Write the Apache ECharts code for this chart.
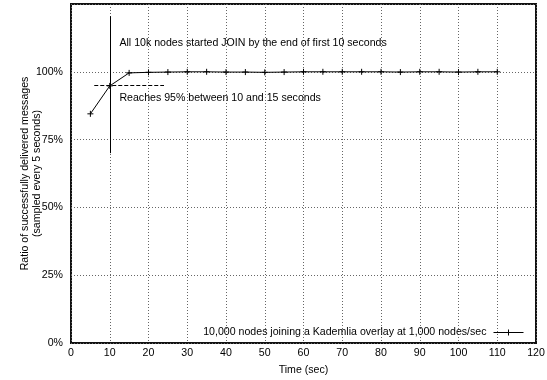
<!DOCTYPE html>
<html>
<head>
<meta charset="utf-8">
<script src="https://cdn.jsdelivr.net/npm/echarts@6/dist/echarts.min.js"></script>
<style>html,body{margin:0;padding:0;background:#fff}#c{width:547px;height:380px}</style>
</head>
<body>
<div id="c"></div>
<script>
const times = [5,10,15,20,25,30,35,40,45,50,55,60,65,70,75,80,85,90,95,100,105,110];
const ratios = [84.5,94.8,99.6,99.8,99.9,100,100,99.9,99.9,99.8,99.9,100,100,100,100,100,99.9,100,100,99.9,100,100];
const xTicks = [0,10,20,30,40,50,60,70,80,90,100,110,120];
const yTicks = [0,25,50,75,100];
const seriesName = '10,000 nodes joining a Kademlia overlay at 1,000 nodes/sec';
const note1 = 'All 10k nodes started JOIN by the end of first 10 seconds';
const note2 = 'Reaches 95% between 10 and 15 seconds';
const vLine = [[10,70],[10,120.5]];
const hLine = [[6,95],[24,95]];
const note1Pos = [12.5,110.5];
const note2Pos = [12.5,90.2];

const font = 'Liberation Sans, Arial, Helvetica, sans-serif';
const fs = 10.6;
const chart = echarts.init(document.getElementById('c'), null, {renderer:'canvas'});
const plus = 'path://M0,5L10,5M5,0L5,10';
chart.setOption({
  animation:false,
  textStyle:{fontFamily:font},
  grid:{left:71,right:11,top:4,bottom:37,show:true,borderColor:'#111',borderWidth:2,
        containLabel:false, outerBoundsMode:'none'},
  legend:{
    data:[seriesName], right:21, top:327, padding:0, align:'right', itemWidth:30, itemHeight:7, itemGap:4,
    icon:'path://M0,5L30,5M15,2L15,8',
    itemStyle:{color:'none',borderColor:'#000',borderWidth:1},
    textStyle:{fontSize:fs,color:'#000',fontFamily:font,padding:[0,2,0,0]}
  },
  xAxis:[{
    type:'value', min:0, max:120, interval:10,
    name:'Time (sec)', nameLocation:'middle', nameGap:22, nameMoveOverlap:false,
    nameTextStyle:{fontSize:fs,color:'#000'},
    axisLine:{show:false},
    axisTick:{show:false},
    axisLabel:{fontSize:fs,color:'#000',margin:5},
    splitLine:{show:true,lineStyle:{type:[1,2],color:'#666',width:1}}
  }],
  yAxis:[{
    type:'value', min:0, max:125, interval:25,
    name:'Ratio of successfully delivered messages\n(sampled every 5 seconds)',
    nameLocation:'middle', nameGap:28, nameRotate:90, nameMoveOverlap:false,
    nameTextStyle:{fontSize:fs,color:'#000',lineHeight:12,align:'center'},
    axisLine:{show:false},
    axisTick:{show:false},
    axisLabel:{fontSize:fs,color:'#000',margin:8,
      formatter:v=> yTicks.indexOf(v)>=0 ? v+'%' : ''},
    splitLine:{show:true,lineStyle:{type:[1,2],color:'#666',width:1}}
  }],
  series:[{
    name:seriesName, type:'line',
    data: times.map((t,i)=>[t,ratios[i]]),
    symbol:plus, symbolSize:6, showSymbol:true,
    itemStyle:{color:'#000',borderColor:'#000',borderWidth:1},
    lineStyle:{color:'#000',width:1},
    markLine:{
      silent:true, symbol:['none','none'],
      label:{show:false},
      data:[
        [{coord:vLine[0],lineStyle:{type:'solid',color:'#000',width:1}},{coord:vLine[1]}],
        [{coord:hLine[0],lineStyle:{type:[4,2],color:'#000',width:1}},{coord:hLine[1]}]
      ]
    },
    markPoint:{
      silent:true, symbol:'circle', symbolSize:0,
      label:{show:true,position:'right',distance:0,fontSize:fs,color:'#000',fontFamily:font},
      data:[
        {coord:note1Pos,label:{formatter:note1}},
        {coord:note2Pos,label:{formatter:note2}}
      ]
    }
  }]
});
</script>
</body>
</html>
